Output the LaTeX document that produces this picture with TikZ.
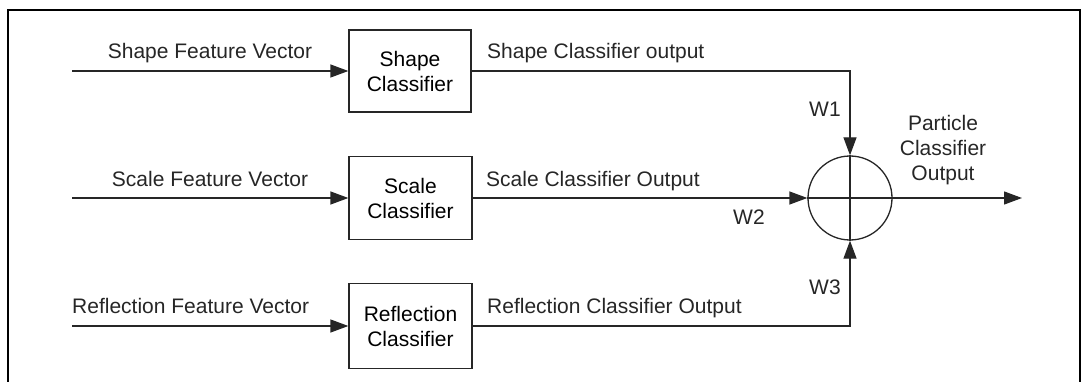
\documentclass[tikz,border=0pt]{standalone}
\usepackage{fontspec}
\setmainfont{Liberation Sans}
\usetikzlibrary{arrows.meta}
\begin{document}
\begin{tikzpicture}[x=1pt,y=-1pt,
  font=\fontsize{21}{25}\selectfont,
  line/.style={line width=1.3pt, draw=black!85},
  arr/.style={line, -{Triangle[length=18pt,width=13pt]}},
  cbox/.style={draw=black!85, line width=1.3pt, rectangle, align=center, inner sep=0pt},
  lbl/.style={inner sep=0pt, text=black!85}
]
\useasboundingbox (0,0) rectangle (1086,382);
% frame
\draw[line width=2.6pt] (8,382) -- (8,10) -- (1080,10) -- (1080,382);
% boxes
\node[cbox, minimum width=122pt, minimum height=82pt] (shapebox) at (410,71) {Shape\\Classifier};
\node[cbox, minimum width=123pt, minimum height=83pt] (scalebox) at (410.5,198) {Scale\\Classifier};
\node[cbox, minimum width=123pt, minimum height=85pt] (reflbox) at (410.5,326) {Reflection\\Classifier};
\node[draw=black!85, line width=1.3pt, circle, minimum size=84pt, inner sep=0pt] (sum) at (850,198) {};
% inputs
\coordinate (in1) at (72,71);
\coordinate (in2) at (72,198);
\coordinate (in3) at (72,326);
\coordinate (out) at (1022,198);
\draw[arr] (in1) -- (shapebox.west);
\draw[arr] (in2) -- (scalebox.west);
\draw[arr] (in3) -- (reflbox.west);
\draw[arr] (shapebox.east) -| (sum.north);
\draw[arr] (scalebox.east) -- (sum.west);
\draw[arr] (reflbox.east) -| (sum.south);
\draw[arr] (sum.east) -- (out);
\draw[line] (sum.north) -- (sum.south);
\draw[line] (sum.west) -- (sum.east);
% labels
\node[lbl, anchor=base] (t1) at (210,59) {Shape Feature Vector};
\node[lbl, anchor=base] (t2) at (210,186) {Scale Feature Vector};
\node[lbl, anchor=base west] (t3) at (72,313) {Reflection Feature Vector};
\node[lbl, anchor=base west] (o1) at (487,59) {Shape Classifier output};
\node[lbl, anchor=base west] (o2) at (486,186) {Scale Classifier Output};
\node[lbl, anchor=base west] (o3) at (487,313) {Reflection Classifier Output};
\node[lbl, anchor=base west] (w1) at (809,117) {W1};
\node[lbl, anchor=base west] (w2) at (733,224) {W2};
\node[lbl, anchor=base west] (w3) at (809,294) {W3};
\node[lbl, align=center] (pco) at (943,150) {Particle\\Classifier\\Output};
\end{tikzpicture}
\end{document}
